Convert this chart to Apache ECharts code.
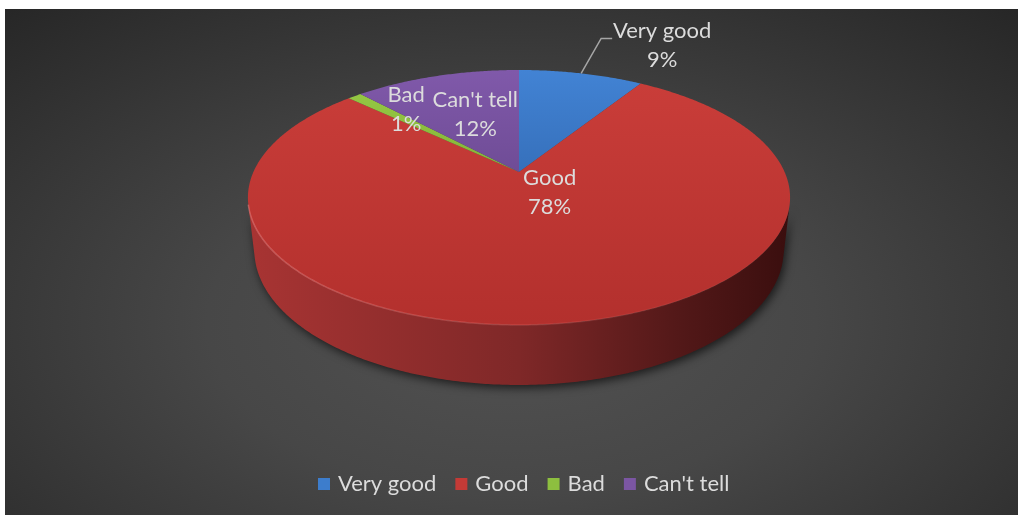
<!DOCTYPE html>
<html>
<head>
<meta charset="utf-8">
<script src="https://cdn.jsdelivr.net/npm/echarts@6/dist/echarts.min.js"></script>
<style>
  html, body { margin: 0; padding: 0; background: #ffffff; }
  #chart {
    position: absolute; left: 5px; top: 9px; width: 1013px; height: 506px;
    background: radial-gradient(ellipse 75% 85% at 50% 62%, #525252 0%, #474747 40%, #262626 100%);
  }
</style>
</head>
<body>
<div id="chart"></div>
<script>
// ---- data ----
const categories = ['Very good', 'Good', 'Bad', "Can't tell"];
const shares = [9, 78, 1, 12];
const percentLabels = ['9%', '78%', '1%', '12%'];

// ---- styling ----
const baseColors = ['#3d7dcc', '#c43a36', '#8dbf3f', '#7b56a3'];
const topShades = [
  ['#4283d4', '#3670bb'],
  ['#c93d39', '#b3302d'],
  ['#94c743', '#84b337'],
  ['#8059aa', '#6f4c96']
];
const sideShades = [
  ['#3466a8', '#1d3a60'],
  ['#a83433', '#3a0e0e'],
  ['#78a434', '#3c5418'],
  ['#664888', '#33244a']
];
const textColor = '#dcdcdc';
const fontFamily = 'Lato, "Open Sans", sans-serif';

// perspective view of a flat disc of radius 1 (clockwise from 12 o'clock)
const view = {
  cx: 0.5074, cy: 0.3221,   // centre of the disc, as fraction of chart size
  f: 1178.6,                // focal length in px
  cosA: 0.8875, sinA: 0.4608,
  dist: 4.4375,             // camera distance (disc radii)
  thick: 0.2248             // disc thickness (disc radii)
};

// label placement: radius fraction along the slice mid-angle, then a nudge in px
const labelLayout = [
  { r: 1.0, dx: 81, dy: -28, leader: [[0, 0], [20, -35], [31, -35]] },
  { r: 0.3, dx: 20, dy: -18 },
  { r: 0.6, dx: -9, dy: -15 },
  { r: 0.6, dx: 9, dy: 4 }
];

const total = shares.reduce((a, b) => a + b, 0);
const startAngles = [];
shares.reduce((acc, v) => { startAngles.push(acc / total * Math.PI * 2); return acc + v; }, 0);

// visible arc of the outer wall: normal faces the camera
const visLimit = Math.acos(-1 / (view.dist * view.cosA));
const visLo = visLimit, visHi = Math.PI * 2 - visLimit;

function project(phi, r, y, W, H) {
  const X = r * Math.sin(phi), Z = r * Math.cos(phi);
  const yc = y * view.cosA + Z * view.sinA;
  const zc = view.dist - y * view.sinA + Z * view.cosA;
  return [view.cx * W + view.f * X / zc, view.cy * H - view.f * yc / zc];
}

function arc(a0, a1, y, W, H) {
  const n = Math.max(2, Math.ceil((a1 - a0) / (Math.PI / 360)));
  const pts = [];
  for (let k = 0; k <= n; k++) pts.push(project(a0 + (a1 - a0) * k / n, 1, y, W, H));
  return pts;
}

function makeRender(i) {
  return function (params, api) {
    const W = api.getWidth(), H = api.getHeight();
    const v = api.value(0);
    const a0 = startAngles[i];
    const a1 = a0 + v / total * Math.PI * 2;
    const children = [];
    const xL = project(Math.PI * 1.44, 1, 0, W, H)[0];
    const xR = project(Math.PI * 0.56, 1, 0, W, H)[0];

    // outer wall (front-facing part only)
    const lo = Math.max(a0, visLo), hi = Math.min(a1, visHi);
    if (hi > lo) {
      const topArc = arc(lo, hi, 0, W, H);
      const botArc = arc(lo, hi, -view.thick, W, H).reverse();
      children.push({
        type: 'polygon',
        z2: 1,
        shape: { points: topArc.concat(botArc) },
        style: {
          fill: new echarts.graphic.LinearGradient(xL, 0, xR, 0, [
            { offset: 0, color: sideShades[i][0] },
            { offset: 0.5, color: i === 1 ? '#7f2828' : sideShades[i][0] },
            { offset: 0.8, color: i === 1 ? '#521818' : sideShades[i][1] },
            { offset: 1, color: sideShades[i][1] }
          ], true),
          shadowBlur: 10,
          shadowColor: 'rgba(0,0,0,0.65)',
          shadowOffsetX: 2,
          shadowOffsetY: 3
        }
      });
    }

    // top face
    const topPts = [project(0, 0, 0, W, H)].concat(arc(a0, a1, 0, W, H));
    children.push({
      type: 'polygon',
      z2: 10,
      shape: { points: topPts },
      style: {
        fill: new echarts.graphic.LinearGradient(0, 0, 0, 1, [
          { offset: 0, color: topShades[i][0] },
          { offset: 1, color: topShades[i][1] }
        ])
      }
    });

    // soft bevel highlight on the front rim of the top face
    if (hi > lo) {
      children.push({
        type: 'polyline',
        z2: 11,
        shape: { points: arc(lo, hi, 0, W, H) },
        style: {
          fill: null,
          lineWidth: 1.5,
          stroke: new echarts.graphic.LinearGradient(xL, 0, xR, 0, [
            { offset: 0, color: 'rgba(255,140,140,0.45)' },
            { offset: 0.6, color: 'rgba(255,140,140,0.15)' },
            { offset: 1, color: 'rgba(255,140,140,0)' }
          ], true)
        }
      });
    }

    // data label
    const lay = labelLayout[i];
    const mid = (a0 + a1) / 2;
    const anchor = project(mid, lay.r, 0, W, H);
    if (lay.leader) {
      children.push({
        type: 'polyline',
        z2: 20,
        shape: { points: lay.leader.map(p => [anchor[0] + p[0], anchor[1] + p[1]]) },
        style: { stroke: '#a6a6a6', lineWidth: 1.5, fill: null }
      });
    }
    children.push({
      type: 'text',
      z2: 20,
      style: {
        text: categories[i] + '\n' + percentLabels[i],
        x: anchor[0] + lay.dx,
        y: anchor[1] + lay.dy,
        fill: textColor,
        font: '22px ' + fontFamily,
        lineHeight: 29,
        align: 'center',
        verticalAlign: 'middle'
      }
    });

    return { type: 'group', children };
  };
}

const chart = echarts.init(document.getElementById('chart'), null, { renderer: 'canvas' });

chart.setOption({
  animation: false,
  legend: {
    data: categories,
    top: 459,
    left: 308,
    icon: 'rect',
    itemWidth: 12,
    itemHeight: 12,
    itemGap: 19,
    selectedMode: false,
    textStyle: { color: textColor, fontSize: 22, fontFamily: fontFamily, padding: [0, 0, 0, 3] }
  },
  series: categories.map((name, i) => ({
    type: 'custom',
    name: name,
    coordinateSystem: 'none',
    itemStyle: { color: baseColors[i] },
    renderItem: makeRender(i),
    data: [shares[i]]
  }))
});
</script>
</body>
</html>
